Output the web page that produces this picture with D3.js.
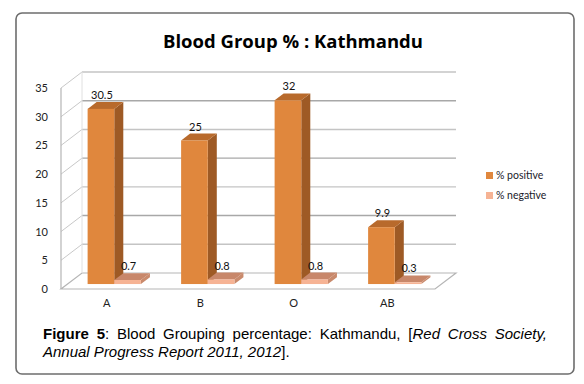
<!DOCTYPE html>
<html><head><meta charset="utf-8">
<script src="https://cdn.jsdelivr.net/npm/d3@7"></script>
<style>body{margin:0;background:#fff}svg{display:block}</style>
</head><body>
<script>
const categories = ["A", "B", "O", "AB"];
const positive = [30.5, 25, 32, 9.9];
const negative = [0.7, 0.8, 0.8, 0.3];
const seriesNames = ["% positive", "% negative"];
const yTicks = [0, 5, 10, 15, 20, 25, 30, 35];
const title = "Blood Group % : Kathmandu";

const W = 584, H = 384;
const svg = d3.select("body").append("svg").attr("width", W).attr("height", H);

// frame
svg.append("rect").attr("x", 16).attr("y", 13).attr("width", 558).attr("height", 361)
  .attr("rx", 6).attr("fill", "#fff").attr("stroke", "#6d6d6d").attr("stroke-width", 1.6);

// 3D geometry
const DX = 21, DY = -16;
const x = d3.scaleBand().domain(categories).range([61, 435]);
const y = d3.scaleLinear().domain([0, 35]).range([289, 88]);
const g = svg.append("g");

yTicks.forEach((t, i) => {
  if (t === 0) return;
  g.append("line").attr("x1", 61 + DX).attr("x2", 435 + DX)
    .attr("y1", y(t) + DY).attr("y2", y(t) + DY)
    .attr("stroke", i % 2 ? "#c4c4c4" : "#a8a8a8").attr("stroke-width", 1.4);
  g.append("line").attr("x1", 61).attr("x2", 61 + DX)
    .attr("y1", y(t)).attr("y2", y(t) + DY)
    .attr("stroke", "#c8c8c8").attr("stroke-width", 1);
});
g.append("path").attr("d", `M${61},${y(0)}L${435},${y(0)}L${435 + DX},${y(0) + DY}L${61 + DX},${y(0) + DY}Z`)
  .attr("fill", "#fff").attr("stroke", "#b5b5b5").attr("stroke-width", 1.2);
g.append("line").attr("x1", 61).attr("x2", 61).attr("y1", y(35)).attr("y2", y(0))
  .attr("stroke", "#b5b5b5").attr("stroke-width", 1.2);
g.append("line").attr("x1", 61 + DX).attr("x2", 61 + DX).attr("y1", y(35) + DY).attr("y2", y(0) + DY)
  .attr("stroke", "#e0e0e0").attr("stroke-width", 1);

g.selectAll(".yt").data(yTicks).enter().append("text")
  .attr("x", 48).attr("y", d => y(d) + 4).attr("text-anchor", "end")
  .attr("font-family", "Lato, 'Open Sans', sans-serif").attr("font-size", 11).attr("fill", "#222")
  .text(d => d);

g.selectAll(".xt").data(categories).enter().append("text")
  .attr("x", d => x(d) + x.bandwidth() / 2 - 1).attr("y", 307).attr("text-anchor", "middle")
  .attr("font-family", "Lato, 'Open Sans', sans-serif").attr("font-size", 11).attr("fill", "#222")
  .text(d => d);

const f0 = 0.31, f1 = 0.74;
const bw = x.bandwidth();
const barW = bw * 0.285;
const colors = [
  { front: "#e0873d", side: "#9e5a25", top: "#b86a2c" },
  { front: "#f6b394", side: "#c98a6c", top: "#c8876a" }
];
const series = [positive, negative];
const dzx = DX * (f1 - f0), dzy = DY * (f1 - f0);

series.forEach((vals, si) => {
  const c = colors[si];
  categories.forEach((cat, ci) => {
    const v = vals[ci];
    const x0 = x(cat) + (bw - 2 * barW) / 2 + si * barW + DX * f0;
    const x1 = x0 + barW;
    const yb = y(0) + DY * f0;
    const yt = y(v) + DY * f0;
    g.append("path").attr("d", `M${x1},${yt}L${x1 + dzx},${yt + dzy}L${x1 + dzx},${yb + dzy}L${x1},${yb}Z`)
      .attr("fill", c.side);
    g.append("path").attr("d", `M${x0},${yt}L${x0 + dzx},${yt + dzy}L${x1 + dzx},${yt + dzy}L${x1},${yt}Z`)
      .attr("fill", c.top);
    g.append("rect").attr("x", x0).attr("y", yt).attr("width", barW).attr("height", yb - yt)
      .attr("fill", c.front);
    g.append("text").attr("x", x0 + barW / 2 + 1).attr("y", yt + dzy - 3).attr("text-anchor", "middle")
      .attr("font-family", "Lato, 'Open Sans', sans-serif").attr("font-size", 11).attr("fill", "#111")
      .text(v);
  });
});

seriesNames.forEach((n, i) => {
  const ly = 172 + i * 20;
  svg.append("rect").attr("x", 486).attr("y", ly).attr("width", 7).attr("height", 7).attr("fill", colors[i].front);
  svg.append("text").attr("x", 496).attr("y", ly + 7).attr("font-family", "Lato, 'Open Sans', sans-serif")
    .attr("font-size", 10.5).attr("fill", "#1a1a2a").text(n);
});

svg.append("text").attr("x", 293).attr("y", 48).attr("text-anchor", "middle")
  .attr("font-family", "'Open Sans', Lato, sans-serif").attr("font-weight", "bold").attr("font-size", 18.5)
  .attr("fill", "#000").text(title);

const cap = svg.append("g").attr("font-family", "'Liberation Sans', Arial, sans-serif").attr("font-size", 15).attr("fill", "#000");
const l1 = cap.append("text").attr("x", 43).attr("y", 339);
l1.append("tspan").attr("font-weight", "bold").text("Figure 5");
l1.append("tspan").text(": Blood Grouping percentage: Kathmandu, [");
l1.append("tspan").attr("font-style", "italic").text("Red Cross Society,");
const nat = l1.node().getComputedTextLength();
const extra = (547 - 43 - nat) / 8;
if (extra > 0 && extra < 15) l1.attr("word-spacing", extra);
const l2 = cap.append("text").attr("x", 43).attr("y", 357);
l2.append("tspan").attr("font-style", "italic").text("Annual Progress Report 2011, 2012");
l2.append("tspan").text("].");
</script>
</body></html>
